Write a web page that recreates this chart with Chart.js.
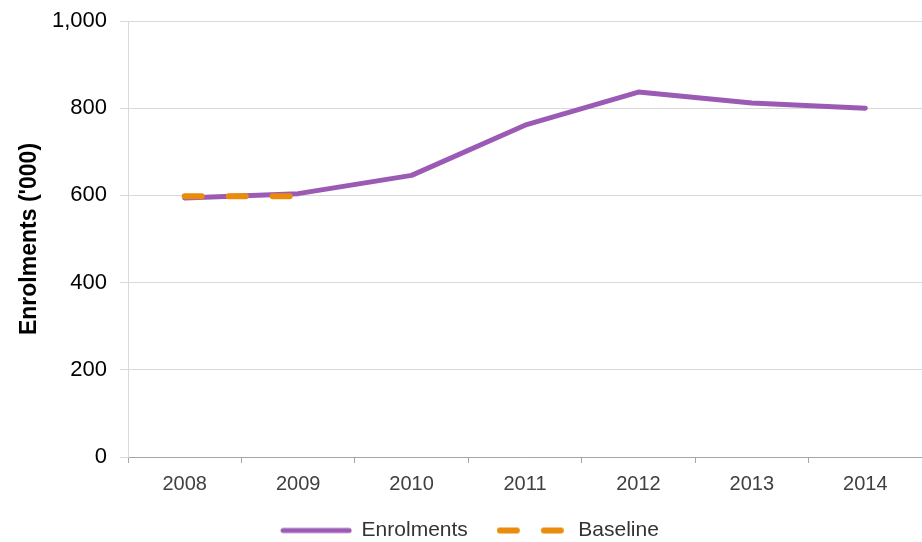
<!DOCTYPE html>
<html>
<head>
<meta charset="utf-8">
<script src="https://cdn.jsdelivr.net/npm/chart.js@4"></script>
<style>
html,body{margin:0;padding:0;background:#fff;}
#wrap{width:922px;height:542px;position:relative;}
</style>
</head>
<body>
<div id="wrap"><canvas id="c" width="922" height="542"></canvas></div>
<script>
const years = ['2008','2009','2010','2011','2012','2013','2014'];
const enrolments = [594, 604, 646, 761, 837, 812, 800];
const baseline = [598, 598, null, null, null, null, null];
const yTicks = [0, 200, 400, 600, 800, 1000];

const FONT = "'Liberation Sans', Arial, sans-serif";
const PURPLE = '#9b5bb4';
const ORANGE = '#eb8b0c';

function legendSample(color, width, dash) {
  const cv = document.createElement('canvas');
  cv.width = 72; cv.height = 10;
  const g = cv.getContext('2d');
  g.strokeStyle = color;
  g.lineWidth = width;
  g.lineCap = 'round';
  g.setLineDash(dash);
  g.beginPath();
  g.moveTo(3, 5);
  g.lineTo(69, 5);
  g.stroke();
  return cv;
}

const legendShift = {
  id: 'legendShift',
  afterLayout(chart) {
    if (chart.legend) { chart.legend.left += 9; chart.legend.right += 9; }
  }
};

new Chart(document.getElementById('c'), {
  type: 'line',
  plugins: [legendShift],
  data: {
    labels: years,
    datasets: [
      {
        label: 'Enrolments',
        data: enrolments,
        borderColor: PURPLE,
        backgroundColor: PURPLE,
        borderWidth: 5,
        pointRadius: 0,
        pointHoverRadius: 0,
        pointStyle: legendSample(PURPLE, 5, []),
        tension: 0,
        borderCapStyle: 'round',
        borderJoinStyle: 'round',
        order: 1
      },
      {
        label: 'Baseline',
        data: baseline,
        borderColor: ORANGE,
        backgroundColor: ORANGE,
        borderWidth: 6,
        borderDash: [17, 27],
        borderCapStyle: 'round',
        pointRadius: 0,
        pointHoverRadius: 0,
        pointStyle: legendSample(ORANGE, 6, [17, 27]),
        tension: 0,
        spanGaps: false,
        order: 0
      }
    ]
  },
  options: {
    responsive: false,
    animation: false,
    devicePixelRatio: 1,
    events: [],
    layout: { padding: { top: 21, right: 0, bottom: -9, left: 0 } },
    plugins: {
      legend: {
        position: 'bottom',
        labels: {
          usePointStyle: true,
          pointStyleWidth: 70,
          boxHeight: 6,
          padding: 30,
          color: '#333',
          font: { family: FONT, size: 21 },
          sort: (a, b) => a.datasetIndex - b.datasetIndex
        }
      },
      tooltip: { enabled: false }
    },
    scales: {
      x: {
        offset: true,
        afterFit: (scale) => { scale.height = scale.height - 15; },
        grid: {
          offset: true,
          drawOnChartArea: false,
          drawTicks: true,
          tickLength: 6,
          color: '#a6a6a6'
        },
        border: { color: '#a6a6a6', width: 1 },
        ticks: {
          color: '#404040',
          padding: 9,
          font: { family: FONT, size: 20 },
          maxRotation: 0
        }
      },
      y: {
        min: 0,
        max: 1000,
        afterBuildTicks: (scale) => { scale.ticks = yTicks.map(v => ({ value: v })); },
        afterFit: (scale) => { scale.width = 128; scale.paddingTop = 0; scale.paddingBottom = 0; },
        grid: {
          color: '#d9d9d9',
          tickLength: 8,
          lineWidth: 1
        },
        border: { color: '#d9d9d9', width: 1 },
        ticks: {
          color: '#000',
          padding: 13,
          font: { family: FONT, size: 22 },
          callback: (v) => v.toLocaleString('en-US')
        },
        title: {
          display: true,
          text: "Enrolments ('000)",
          color: '#000',
          padding: { top: 16, bottom: 0 },
          font: { family: FONT, size: 23, weight: 'bold' }
        }
      }
    }
  }
});
</script>
</body>
</html>
